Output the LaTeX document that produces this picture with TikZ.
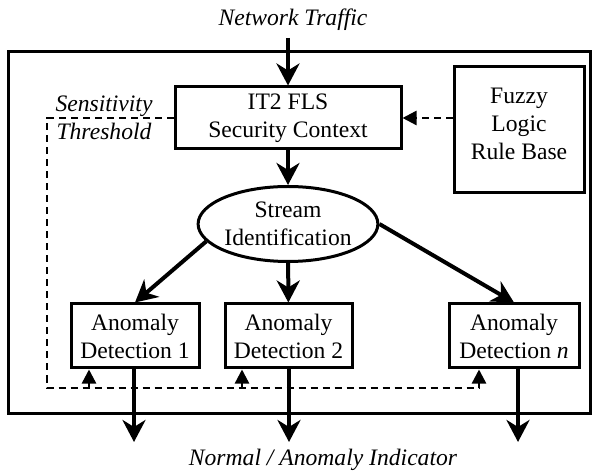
\documentclass[tikz,border=0pt]{standalone}
\usepackage{fontspec}
\setmainfont{Liberation Serif}
\usetikzlibrary{shapes.geometric, positioning, arrows.meta}

\begin{document}
\begin{tikzpicture}[
    x=0.5pt, y=-0.5pt,
    every node/.style={font=\fontsize{11.8}{14}\selectfont},
    block/.style={draw, line width=1.5pt, align=center, inner sep=0pt},
    tag/.style={font=\fontsize{11.8}{14}\selectfont\itshape, align=center},
    flow/.style={line width=2pt, -{Stealth[length=11pt, width=11.5pt, inset=3.5pt]}},
    ctrl/.style={line width=1.2pt, dash pattern=on 3.5pt off 2.5pt},
    ctrltip/.style={-{Triangle[length=7pt, width=7pt]}}
]

\useasboundingbox (0,0) rectangle (592,474);

% Outer frame of the system
\draw[line width=1.5pt] (8,52) rectangle (590,413);

% Inputs, context and rule base
\node[tag] (traffic) at (293,20) {Network Traffic};
\node[block, minimum width=113pt, minimum height=31pt] (fls) at (288,118) {IT2 FLS\\Security Context};
\node[block, minimum width=65pt, minimum height=63pt, text depth=6.5pt] (rules) at (519,130) {Fuzzy\\Logic\\Rule Base};
\node[tag] (sens) at (104,118) {Sensitivity\\Threshold};

% Stream identification
\node[draw, ellipse, line width=1.5pt, minimum width=82.5pt, minimum height=37.5pt,
      inner sep=0pt, align=center] (stream) at (288,224) {Stream\\Identification};

% Anomaly detectors
\node[block, minimum width=64pt, minimum height=32pt] (ad1) at (135,336) {Anomaly\\Detection 1};
\node[block, minimum width=63.5pt, minimum height=32pt] (ad2) at (288.5,336) {Anomaly\\Detection 2};
\node[block, minimum width=65pt, minimum height=32pt] (adn) at (514,336) {Anomaly\\Detection \textit{n}};

% Output
\node[tag] (indicator) at (323,460) {Normal / Anomaly Indicator};

% Free ends and bends
\coordinate (out1) at (134,442);
\coordinate (out2) at (289,442);
\coordinate (outn) at (518,442);
\coordinate (corner) at (47,388);
\coordinate (tap1) at (89,388);
\coordinate (tap2) at (242,388);
\coordinate (tapn) at (479,388);

% Main flow
\draw[flow] (fls.north |- traffic.south) -- (fls.north);
\draw[flow] (fls) -- (stream);
\draw[flow] (stream.192) -- (ad1.north);
\draw[flow] (stream) -- (ad2);
\draw[flow] (stream.east) -- (adn.north);
\draw[flow] (out1 |- ad1.south) -- (out1);
\draw[flow] (out2 |- ad2.south) -- (out2);
\draw[flow] (outn |- adn.south) -- (outn);

% Rule base and threshold feedback (dashed)
\draw[ctrl, ctrltip] (rules.west |- fls.east) -- (fls.east);
\draw[ctrl, ctrltip] (fls.west) -| (corner) -- (tapn) -- (tapn |- adn.south);
\draw[line width=1.2pt, ctrltip] (tap1) -- (tap1 |- ad1.south);
\draw[line width=1.2pt, ctrltip] (tap2) -- (tap2 |- ad2.south);

\end{tikzpicture}
\end{document}
